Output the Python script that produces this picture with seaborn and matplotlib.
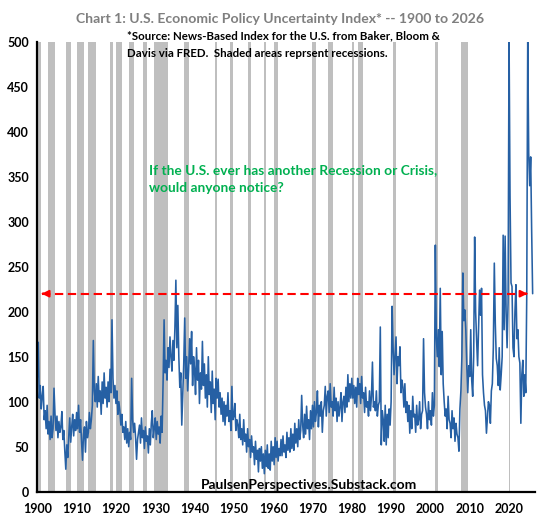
import numpy as np
import pandas as pd
import matplotlib
matplotlib.use("Agg")
import matplotlib.pyplot as plt
import seaborn as sns

# ---------------- data ----------------
start_year = 1900
# quarterly readings of the Economic Policy Uncertainty index, 1900Q1 .. 2026Q1
epu_1900s = [127, 166, 104, 118, 92, 106, 117, 80, 90, 70, 96, 64, 78, 58, 84, 60,
             70, 115, 86, 68, 84, 60, 78, 66, 72, 89, 58, 68, 45, 25, 52, 38,
             62, 82, 55, 72, 86, 62, 80, 68]
epu_1910s = [88, 70, 96, 66, 80, 56, 35, 64, 72, 44, 78, 60, 66, 88, 70, 80,
             96, 168, 112, 100, 120, 94, 128, 100, 112, 86, 122, 98, 132, 104, 116, 94,
             122, 100, 136, 110, 191, 126, 104, 118]
epu_1920s = [98, 112, 86, 100, 90, 74, 86, 66, 72, 58, 78, 54, 70, 50, 66, 58,
             126, 80, 66, 76, 60, 36, 58, 66, 74, 54, 82, 60, 68, 48, 72, 56,
             62, 43, 70, 52, 76, 90, 60, 70]
epu_1930s = [82, 58, 78, 64, 72, 54, 84, 66, 122, 191, 132, 146, 124, 160, 138, 172,
             150, 134, 168, 146, 182, 235, 160, 207, 150, 116, 132, 74, 110, 142, 193, 126,
             150, 112, 136, 170, 142, 178, 118, 150]
epu_1940s = [136, 108, 160, 124, 146, 98, 132, 114, 167, 118, 142, 104, 130, 94, 150, 108,
             122, 88, 134, 98, 114, 80, 126, 104, 125, 94, 110, 86, 104, 78, 100, 74,
             96, 84, 110, 78, 90, 68, 117, 80]
epu_1950s = [84, 98, 68, 80, 74, 60, 86, 58, 70, 52, 80, 56, 64, 44, 70, 50,
             58, 38, 62, 44, 50, 30, 56, 36, 46, 22, 48, 34, 50, 26, 42, 20,
             46, 28, 52, 26, 42, 24, 56, 34]
epu_1960s = [50, 30, 60, 38, 56, 34, 48, 40, 58, 40, 62, 44, 52, 38, 66, 46,
             60, 44, 70, 48, 64, 46, 76, 54, 70, 50, 80, 58, 68, 107, 74, 60,
             86, 64, 95, 70, 80, 58, 90, 70]
epu_1970s = [96, 72, 100, 78, 88, 112, 72, 96, 84, 100, 66, 90, 96, 117, 84, 106,
             112, 88, 120, 94, 100, 84, 116, 90, 104, 78, 100, 84, 94, 110, 78, 100,
             106, 88, 116, 94, 130, 100, 120, 104]
epu_1980s = [126, 104, 118, 98, 116, 94, 126, 108, 120, 98, 128, 104, 110, 88, 116, 94,
             100, 84, 112, 90, 106, 144, 94, 100, 90, 112, 84, 96, 100, 183, 52, 90,
             80, 56, 96, 52, 86, 60, 92, 74]
epu_1990s = [100, 206, 160, 130, 150, 172, 120, 150, 140, 161, 110, 124, 116, 94, 120, 88,
             100, 78, 96, 65, 90, 70, 106, 83, 86, 66, 96, 74, 80, 100, 70, 86,
             90, 170, 110, 94, 86, 70, 100, 80]
epu_2000s = [90, 74, 110, 84, 96, 274, 172, 150, 180, 139, 226, 130, 178, 120, 100, 84,
             92, 70, 106, 80, 76, 60, 90, 70, 82, 56, 76, 64, 60, 45, 92, 112,
             150, 243, 190, 202, 180, 140, 110, 140]
epu_2010s = [128, 180, 124, 106, 150, 283, 200, 168, 140, 182, 224, 196, 226, 130, 110, 96,
             90, 65, 82, 100, 96, 76, 112, 120, 160, 254, 187, 148, 140, 118, 160, 113,
             130, 150, 285, 180, 284, 200, 160, 210]
epu_2020s = [505, 328, 232, 228, 160, 150, 200, 230, 170, 180, 150, 143, 76, 130, 146, 106,
             130, 110, 217, 505, 376, 340, 372, 290, 220]

# NBER recession periods (shaded)
rec_start = [1899.4, 1902.7, 1907.4, 1910.0, 1913.0, 1918.6, 1920.0, 1923.4, 1926.8, 1929.6,
             1937.4, 1945.1, 1948.9, 1953.5, 1957.6, 1960.3, 1969.9, 1973.9, 1980.0, 1981.5,
             1990.5, 2001.2, 2007.9, 2020.1]
rec_end = [1900.9, 1904.6, 1908.5, 1912.0, 1915.0, 1919.2, 1921.5, 1924.5, 1927.9, 1933.2,
           1938.5, 1945.8, 1949.8, 1954.4, 1958.3, 1961.1, 1970.9, 1975.2, 1980.5, 1982.9,
           1991.2, 2001.9, 2009.5, 2020.3]

x_ticks = list(range(1900, 2021, 10))
y_ticks = list(range(0, 501, 50))
ref_level = 220

title = "Chart 1: U.S. Economic Policy Uncertainty Index* -- 1900 to 2026"
source_1 = "*Source: News-Based Index for the U.S. from Baker, Bloom &"
source_2 = "Davis via FRED.  Shaded areas reprsent recessions."
note_1 = "If the U.S. ever has another Recession or Crisis,"
note_2 = "would anyone notice?"
credit = "PaulsenPerspectives.Substack.com"

# ---------------- drawing ----------------
epu = (epu_1900s + epu_1910s + epu_1920s + epu_1930s + epu_1940s + epu_1950s +
       epu_1960s + epu_1970s + epu_1980s + epu_1990s + epu_2000s + epu_2010s + epu_2020s)
years = start_year + np.arange(len(epu)) * 0.25
df = pd.DataFrame({"year": years, "epu": epu})

sns.set_style("white")
plt.rcParams["font.family"] = ["Lato", "DejaVu Sans"]
plt.rcParams["font.weight"] = "bold"

W, H = 559, 522
fig = plt.figure(figsize=(W / 100, H / 100), dpi=100)
ax = fig.add_axes([37.3 / W, 1 - 491.7 / H, (535 - 37.3) / W, (491.7 - 41.7) / H])

for s, e in zip(rec_start, rec_end):
    ax.axvspan(s, e, color="#bfbfbf", lw=0, zorder=0)

sns.lineplot(data=df, x="year", y="epu", color="#2660a4", lw=1.15, ax=ax, zorder=2)

ax.set_xlim(1900, 2026.6)
ax.set_ylim(0, 500)
ax.set_xticks(x_ticks)
ax.set_yticks(y_ticks)
ax.set_xlabel("")
ax.set_ylabel("")
for sp in ["top", "right"]:
    ax.spines[sp].set_visible(False)
for sp in ["left", "bottom"]:
    ax.spines[sp].set_linewidth(1.6)
    ax.spines[sp].set_color("black")
ax.tick_params(axis="both", direction="inout", length=6, width=1.5, labelsize=9,
               colors="black")
ax.tick_params(axis="y", pad=3)
ax.tick_params(axis="x", pad=5)
for lab in ax.get_xticklabels() + ax.get_yticklabels():
    lab.set_fontweight("bold")

# red dashed reference line with arrowheads at both ends
ax.plot([1901.2, 2024.6], [ref_level, ref_level], color="red", lw=1.5,
        ls=(0, (4, 2.2)), zorder=3)
ax.annotate("", xy=(1900.4, ref_level), xytext=(1902.2, ref_level),
            arrowprops=dict(arrowstyle="-|>", color="red", lw=1.5, mutation_scale=10),
            zorder=3)
ax.annotate("", xy=(2025.4, ref_level), xytext=(2023.6, ref_level),
            arrowprops=dict(arrowstyle="-|>", color="red", lw=1.5, mutation_scale=10),
            zorder=3)

def fx(px):
    return px / W

def fy(py):
    return 1 - py / H

fig.text(fx(280), fy(18.6), title, ha="center", va="center", fontsize=10.1,
         color="#7f7f7f", fontweight="bold")
fig.text(fx(127), fy(36), source_1, ha="left", va="center", fontsize=8.3,
         color="black", fontweight="bold")
fig.text(fx(127), fy(53.6), source_2, ha="left", va="center", fontsize=8.3,
         color="black", fontweight="bold")
fig.text(fx(149), fy(170), note_1, ha="left", va="center", fontsize=9.9,
         color="#00b050", fontweight="bold")
fig.text(fx(149), fy(188), note_2, ha="left", va="center", fontsize=9.9,
         color="#00b050", fontweight="bold")
fig.text(fx(308.5), fy(484.6), credit, ha="center", va="center", fontsize=10,
         color="black", fontweight="bold")

fig.savefig("out.png", dpi=100)
